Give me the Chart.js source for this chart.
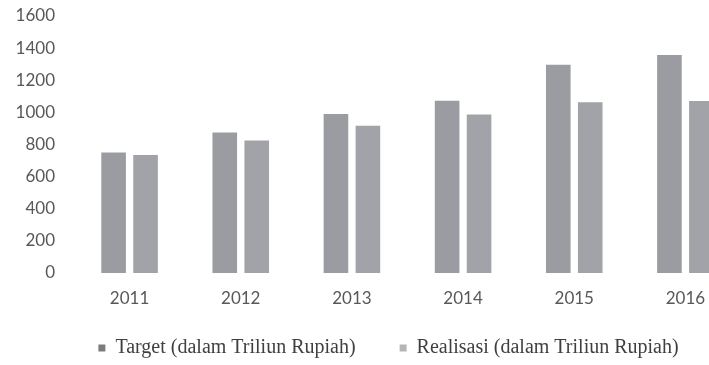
<!DOCTYPE html>
<html>
<head>
<meta charset="utf-8">
<script src="https://cdn.jsdelivr.net/npm/chart.js@4/dist/chart.umd.min.js"></script>
<style>
  html, body { margin: 0; padding: 0; background: #fff; overflow: hidden; }
  #wrap { width: 760px; height: 365px; }
</style>
</head>
<body>
<div id="wrap"><canvas id="chart"></canvas></div>
<script>
// Data
const years = ['2011', '2012', '2013', '2014', '2015', '2016']
const target = [750, 875, 990, 1073, 1297, 1357]
const realisasi = [735, 825, 917, 986, 1063, 1071]
const yTicks = [0, 200, 400, 600, 800, 1000, 1200, 1400, 1600]

// The legend items are far apart but the row sits close to the axis labels;
// the labels padding drives both, so shrink the box and draw the row a bit higher
const legendFit = {
  id: 'legendFit',
  beforeInit(chart) {
    const legend = chart.legend
    const fit = legend.fit
    const draw = legend.draw
    legend.fit = function () { fit.call(this); this.height = 51 }
    legend.draw = function () {
      const { top, left, right } = this
      this.top -= 20
      this.left += 10
      this.right += 10
      draw.call(this)
      Object.assign(this, { top, left, right })
    }
  },
}

const markerColors = ['#7b7c80', '#b4b5b8']

new Chart(document.getElementById('chart'), {
  type: 'bar',
  data: {
    labels: years,
    datasets: [
      {
        label: 'Target (dalam Triliun Rupiah)',
        data: target,
        backgroundColor: '#9a9ca1',
        categoryPercentage: 0.575,
        barPercentage: 0.77,
      },
      {
        label: 'Realisasi (dalam Triliun Rupiah)',
        data: realisasi,
        backgroundColor: '#a1a3a8',
        categoryPercentage: 0.575,
        barPercentage: 0.77,
      },
    ],
  },
  options: {
    responsive: true,
    maintainAspectRatio: false,
    animation: false,
    layout: { padding: { top: 16, left: 16, right: 19, bottom: 0 } },
    plugins: {
      tooltip: { enabled: false },
      legend: {
        position: 'bottom',
        labels: {
          boxWidth: 7,
          boxHeight: 7,
          padding: 44,
          color: '#3f3f3f',
          font: { family: '"Liberation Serif", serif', size: 20 },
          generateLabels(chart) {
            const items = Chart.defaults.plugins.legend.labels.generateLabels(chart)
            items.forEach((it, i) => { it.fillStyle = markerColors[i]; it.strokeStyle = markerColors[i]; it.lineWidth = 0 })
            return items
          },
        },
      },
    },
    scales: {
      x: {
        grid: { display: false, drawTicks: false },
        border: { display: false },
        ticks: { color: '#585858', padding: 15, font: { family: 'Lato, sans-serif', size: 17 } },
        afterFit(scale) { scale.height = 41 },
      },
      y: {
        min: 0,
        max: 1600,
        afterBuildTicks(scale) { scale.ticks = yTicks.map(v => ({ value: v })) },
        grid: { display: false, drawTicks: false },
        border: { display: false },
        ticks: {
          color: '#585858',
          padding: 19,
          font: { family: 'Lato, sans-serif', size: 17 },
          callback: v => String(v),
        },
        afterFit(scale) {
          scale.width = 58
          scale.paddingTop = 0
          scale.paddingBottom = 0
        },
      },
    },
  },
  plugins: [legendFit],
})
</script>
</body>
</html>
